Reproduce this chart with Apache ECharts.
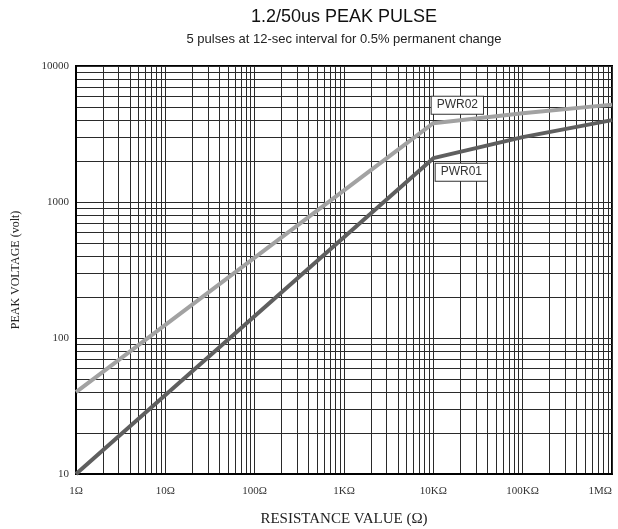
<!DOCTYPE html>
<html>
<head>
<meta charset="utf-8">
<script src="https://cdn.jsdelivr.net/npm/echarts@6/dist/echarts.min.js"></script>
<style>
  html, body { margin: 0; padding: 0; background: #fff; }
  #chart { width: 618px; height: 529px; }
</style>
</head>
<body>
<div id="chart"></div>
<script>
// resistance (ohm) at each break point of the curves
var resistance = [1, 10000, 100000, 1000000];
// peak voltage (volt)
var pwr01 = [10, 2100, 3000, 4000];
var pwr02 = [40, 3800, 4500, 5200];

var xTickValues = [1, 10, 100, 1000, 10000, 100000, 1000000];
var xTickLabels = ['1Ω', '10Ω', '100Ω', '1KΩ', '10KΩ', '100KΩ', '1MΩ'];

var serif = '"Liberation Serif", "DejaVu Serif", serif';
var sans = '"Liberation Sans", Arial, sans-serif';

// knee point (10K) carries the series name box
function buildData(values, name, offset) {
  return resistance.map(function (r, i) {
    var item = { value: [r, values[i]] };
    if (i === 1) {
      item.label = {
        show: true,
        position: 'inside',
        offset: offset,
        formatter: name,
        fontFamily: sans,
        fontSize: 12,
        color: '#333',
        backgroundColor: '#fff',
        borderColor: '#333',
        borderWidth: 1,
        padding: [3, 5, 2, 5]
      };
    }
    return item;
  });
}

var chart = echarts.init(document.getElementById('chart'));

var gridLine = { show: true, lineStyle: { color: '#2a2a2a', width: 1 } };

chart.setOption({
  animation: false,
  title: {
    text: '1.2/50us PEAK PULSE',
    subtext: '5 pulses at 12-sec interval for 0.5% permanent change',
    left: 344,
    top: 8,
    textAlign: 'center',
    padding: 0,
    itemGap: 7,
    textStyle: { fontFamily: sans, fontSize: 18, fontWeight: 'normal', color: '#111' },
    subtextStyle: { fontFamily: sans, fontSize: 13, color: '#222' }
  },
  grid: {
    left: 76, right: 6, top: 66, bottom: 55,
    outerBoundsMode: 'none',
    containLabel: false,
    show: true,
    borderColor: '#000',
    borderWidth: 2,
    backgroundColor: '#fff'
  },
  xAxis: {
    type: 'log',
    logBase: 10,
    min: 1,
    max: 1000000,
    name: 'RESISTANCE VALUE (Ω)',
    nameLocation: 'middle',
    nameGap: 38,
    nameTextStyle: { fontFamily: serif, fontSize: 15, color: '#222' },
    axisLine: { show: true, lineStyle: { color: '#000', width: 2 } },
    axisTick: { show: false },
    axisLabel: {
      fontFamily: serif, fontSize: 11, color: '#333', margin: 12,
      alignMaxLabel: 'right',
      formatter: function (v) {
        var i = xTickValues.indexOf(Math.round(v));
        return i >= 0 ? xTickLabels[i] : '';
      }
    },
    splitLine: gridLine,
    minorTick: { show: false, splitNumber: 9 },
    minorSplitLine: gridLine
  },
  yAxis: {
    type: 'log',
    logBase: 10,
    min: 10,
    max: 10000,
    name: 'PEAK VOLTAGE (volt)',
    nameLocation: 'middle',
    nameGap: 54,
    nameTextStyle: { fontFamily: serif, fontSize: 12, color: '#222' },
    axisLine: { show: true, lineStyle: { color: '#000', width: 2 } },
    axisTick: { show: false },
    axisLabel: {
      fontFamily: serif, fontSize: 11, color: '#333', margin: 7,
      formatter: function (v) { return String(Math.round(v)); }
    },
    splitLine: gridLine,
    minorTick: { show: false, splitNumber: 9 },
    minorSplitLine: gridLine
  },
  series: [
    {
      name: 'PWR02',
      type: 'line',
      symbol: 'circle',
      symbolSize: 0,
      showAllSymbol: true,
      data: buildData(pwr02, 'PWR02', [24, -18]),
      lineStyle: { color: '#a2a2a2', width: 4 },
      itemStyle: { color: '#a2a2a2' },
      z: 3
    },
    {
      name: 'PWR01',
      type: 'line',
      symbol: 'circle',
      symbolSize: 0,
      showAllSymbol: true,
      data: buildData(pwr01, 'PWR01', [28, 14]),
      lineStyle: { color: '#5f5f5f', width: 4 },
      itemStyle: { color: '#5f5f5f' },
      z: 4
    }
  ]
});
</script>
</body>
</html>
